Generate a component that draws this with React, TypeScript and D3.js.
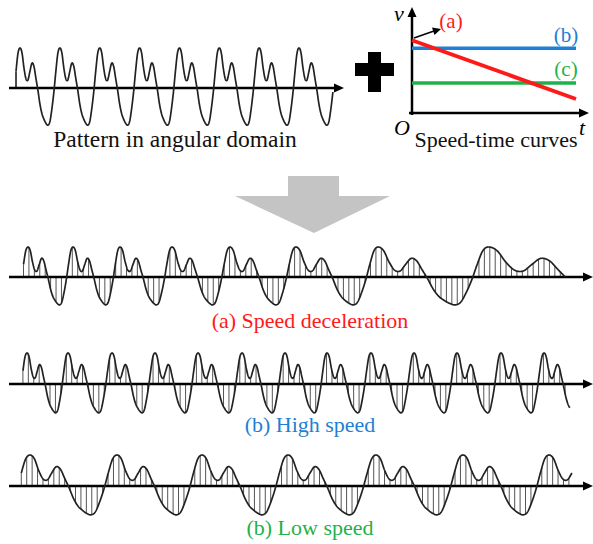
import React from "react";
import * as d3 from "d3";

// One period of the angular-domain pattern, sampled at phase k/20 (normalised to the tall peak)
const patternValues = [
  1.0, 0.88, 0.5, 0.23, 0.2, 0.42, 0.62, 0.54, 0.24, -0.06,
  -0.4, -0.64, -0.78, -0.88, -0.93, -0.84, -0.52, -0.1, 0.42, 0.87,
];

// Top pattern: cycles shown in the angular domain
const topCycleRange = [-0.1, 7.85];

// Time-domain rows: time (0..100) at which each cycle's tall peak is reached
const decelTimes = [3.26, 10.98, 19.04, 27.96, 37.9, 49.2, 63.3, 82.2, 95.4];
const decelCycles = [0, 1, 2, 3, 4, 5, 6, 7, 7.44];
const highTimes = [3.09, 10.12, 17.67, 25.04, 32.42, 39.97, 47.34, 54.55, 62.09, 69.47, 76.84, 84.39, 91.77, 96.23];
const highCycles = [0, 1, 2, 3, 4, 5, 6, 7, 8, 9, 10, 11, 12, 12.6];
const lowTimes = [3.6, 18.52, 33.1, 47.86, 62.95, 77.87, 92.62, 96.57];
const lowCycles = [0, 1, 2, 3, 4, 5, 6, 6.25];

// Speed-time curves (normalised speed)
const curveT = [0, 1];
const speedA = [0.91, 0.175];
const speedB = [0.81, 0.81];
const speedC = [0.375, 0.375];

const RED = "#ff1a1a";
const BLUE = "#1f7fd6";
const GREEN = "#1fb14a";
const FONT = "'Liberation Serif', 'Times New Roman', serif";

function patternAt(phase: number): number {
  const n = patternValues.length;
  const f = (((phase % 1) + 1) % 1) * n;
  const i = Math.floor(f);
  const u = f - i;
  const p0 = patternValues[(i - 1 + n) % n];
  const p1 = patternValues[i % n];
  const p2 = patternValues[(i + 1) % n];
  const p3 = patternValues[(i + 2) % n];
  return 0.5 * (2 * p1 + (-p0 + p2) * u + (2 * p0 - 5 * p1 + 4 * p2 - p3) * u * u + (-p0 + 3 * p1 - 3 * p2 + p3) * u * u * u);
}

const xTime = d3.scaleLinear().domain([0, 100]).range([9, 592]);

function Row({ times, cycles, axisY, amp, label, color, labelY }: any) {
  const tToC = d3.scaleLinear().domain(times).range(cycles);
  const cToT = d3.scaleLinear().domain(cycles).range(times);
  const y = d3.scaleLinear().domain([-1, 1]).range([axisY + amp, axisY - amp]);
  const t0 = cToT(-0.1);
  const t1 = times[times.length - 1];
  const pts: [number, number][] = [];
  for (let t = t0; t <= t1 + 1e-9; t += 0.05) pts.push([t, patternAt(tToC(t))]);
  const line = d3.line<[number, number]>().x((d) => xTime(d[0])).y((d) => y(d[1]));
  const hatch = d3.range(t0, t1, 0.93);
  return (
    <g>
      {hatch.map((t, i) => (
        <line key={i} x1={xTime(t)} x2={xTime(t)} y1={axisY} y2={y(patternAt(tToC(t)))} stroke="#555" strokeWidth={1} />
      ))}
      <line x1={9} x2={584} y1={axisY} y2={axisY} stroke="#000" strokeWidth={2.5} />
      <polygon points={`583,${axisY - 4.5} 593,${axisY} 583,${axisY + 4.5}`} fill="#000" />
      <path d={line(pts) || ""} fill="none" stroke="#222" strokeWidth={1.7} />
      <text x={310} y={labelY} textAnchor="middle" fill={color} fontFamily={FONT} fontSize={22}>{label}</text>
    </g>
  );
}

export default function App() {
  // top angular pattern
  const xAng = d3.scaleLinear().domain([0, 7]).range([20, 299]);
  const yAng = d3.scaleLinear().domain([-1, 1]).range([88 + 40, 88 - 40]);
  const topPts = d3.range(topCycleRange[0], topCycleRange[1] + 1e-9, 0.005).map((c) => [c, patternAt(c)] as [number, number]);
  const topLine = d3.line<[number, number]>().x((d) => xAng(d[0])).y((d) => yAng(d[1]));

  // speed-time panel
  const xs = d3.scaleLinear().domain([0, 1]).range([412, 576]);
  const ys = d3.scaleLinear().domain([0, 1]).range([113, 33]);
  const sl = (vals: number[]) =>
    d3.line<number>().x((_, i) => xs(curveT[i])).y((v) => ys(v))(vals) || "";

  return (
    <svg width={593} height={544} style={{ position: "absolute", left: 0, top: 0, background: "#fff" }}>
      {/* top pattern */}
      <line x1={xAng(topCycleRange[0])} x2={xAng(topCycleRange[0])} y1={88} y2={yAng(patternAt(topCycleRange[0]))} stroke="#222" strokeWidth={1.6} />
      <line x1={9} x2={336} y1={88} y2={88} stroke="#000" strokeWidth={2.5} />
      <polygon points="334,83.5 344,88 334,92.5" fill="#000" />
      <path d={topLine(topPts) || ""} fill="none" stroke="#222" strokeWidth={1.7} />
      <text x={175} y={147} textAnchor="middle" fontFamily={FONT} fontSize={23.5} fill="#111">Pattern in angular domain</text>

      {/* plus */}
      <rect x={355} y={63} width={39} height={13} fill="#000" />
      <rect x={368} y={52} width={13} height={40} fill="#000" />

      {/* speed-time curves */}
      <line x1={412} x2={412} y1={115} y2={16} stroke="#000" strokeWidth={2.5} />
      <polygon points="407.5,17 412,7 416.5,17" fill="#000" />
      <line x1={409} x2={580} y1={113} y2={113} stroke="#000" strokeWidth={2.5} />
      <polygon points="579,108.5 589,113 579,117.5" fill="#000" />
      <path d={sl(speedB)} stroke={BLUE} strokeWidth={3.5} fill="none" />
      <path d={sl(speedC)} stroke={GREEN} strokeWidth={3.5} fill="none" />
      <path d={sl(speedA)} stroke={RED} strokeWidth={3.8} fill="none" />
      <line x1={414} y1={38} x2={434} y2={31} stroke="#000" strokeWidth={1.5} />
      <polygon points="432,27.5 441,29 434.5,35" fill="#000" />
      <text x={399} y={21} textAnchor="middle" fontFamily={FONT} fontStyle="italic" fontSize={22}>v</text>
      <text x={402} y={135} textAnchor="middle" fontFamily={FONT} fontStyle="italic" fontSize={22}>O</text>
      <text x={582} y={135} textAnchor="middle" fontFamily={FONT} fontStyle="italic" fontSize={22}>t</text>
      <text x={451} y={28} textAnchor="middle" fontFamily={FONT} fontSize={21} fill={RED}>(a)</text>
      <text x={566} y={42} textAnchor="middle" fontFamily={FONT} fontSize={21} fill={BLUE}>(b)</text>
      <text x={566} y={76} textAnchor="middle" fontFamily={FONT} fontSize={21} fill={GREEN}>(c)</text>
      <text x={496} y={147} textAnchor="middle" fontFamily={FONT} fontSize={22} fill="#111">Speed-time curves</text>

      {/* gray arrow */}
      <polygon points="288,176 339,176 339,196 390,196 314,233 235,196 288,196" fill="#c4c4c4" />

      <Row times={decelTimes} cycles={decelCycles} axisY={277} amp={30} label="(a) Speed deceleration" color={RED} labelY={328} />
      <Row times={highTimes} cycles={highCycles} axisY={384} amp={31} label="(b) High speed" color={BLUE} labelY={432} />
      <Row times={lowTimes} cycles={lowCycles} axisY={486} amp={31} label="(b) Low speed" color={GREEN} labelY={535} />
    </svg>
  );
}
